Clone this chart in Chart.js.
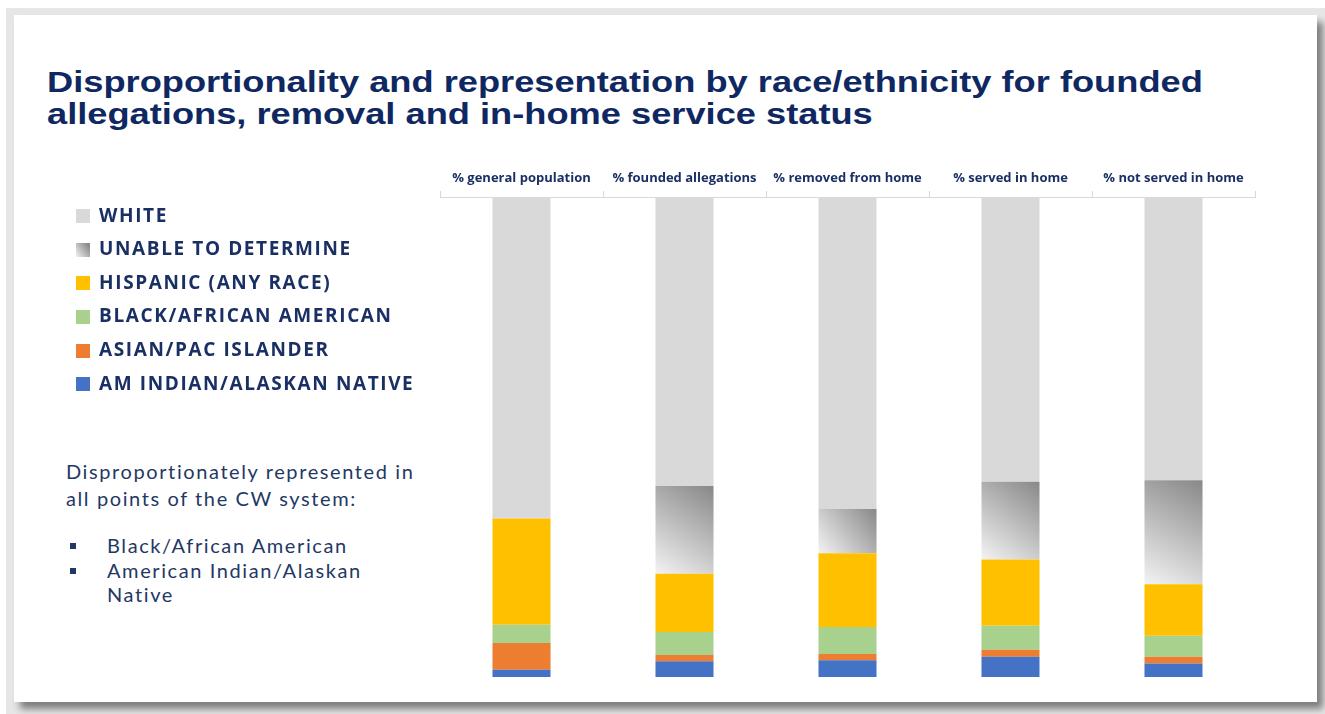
<!DOCTYPE html>
<html>
<head>
<meta charset="utf-8">
<script src="https://cdn.jsdelivr.net/npm/chart.js@4.4.0/dist/chart.umd.min.js"></script>
<style>
  html, body { margin: 0; padding: 0; background: #fff; width: 1325px; height: 714px; overflow: hidden; }
  #frame { position: absolute; left: 6px; top: 8px; width: 1319px; height: 706px; background: #e6e6e6; }
  #panel { position: absolute; left: 14px; top: 15px; width: 1303px; height: 687px; background: #fff;
           box-shadow: 6px 7px 7px rgba(0,0,0,0.45); }
  #title { position: absolute; left: 47px; top: 66px; font-family: "Liberation Sans", Arial, sans-serif;
           font-weight: bold; font-size: 30px; line-height: 32px; color: #0f2862; white-space: nowrap;
           transform: scaleX(1.208); transform-origin: 0 0; }
  #note { position: absolute; left: 66px; top: 458px; font-family: Lato, sans-serif; font-size: 20px;
          line-height: 27px; color: #1f3864; letter-spacing: 1.6px; }
  #note ul { list-style: none; margin: 21px 0 0 0; padding: 0; line-height: 24.5px; }
  #note li { position: relative; padding-left: 41px; width: 275px; }
  #note li::before { content: ""; position: absolute; left: 4px; top: 10px; width: 6px; height: 6px; background: #1f3864; }
  #wrap { position: absolute; left: 61px; top: 157px; width: 1204px; height: 520px; }
</style>
</head>
<body>
<div id="frame"></div>
<div id="panel"></div>
<div id="title">Disproportionality and representation by race/ethnicity for founded<br>allegations, removal and in-home service status</div>
<div id="note">Disproportionately represented in<br>all points of the CW system:
  <ul><li>Black/African American</li><li>American Indian/Alaskan Native</li></ul>
</div>
<div id="wrap"><canvas id="raceChart"></canvas></div>
<script>
  const categories = ["% general population", "% founded allegations", "% removed from home", "% served in home", "% not served in home"];
  const amIndian = [1.5, 3.3, 3.5, 4.2, 2.8];
  const asian = [5.6, 1.3, 1.3, 1.5, 1.4];
  const black = [3.8, 4.8, 5.6, 5.0, 4.4];
  const hispanic = [22.1, 12.1, 15.4, 13.8, 10.7];
  const unable = [0, 18.3, 9.2, 16.2, 21.7];
  const white = [67.0, 60.2, 65.0, 59.3, 59.0];

  const barPct = 0.356;
  const navy = "#1a2f63";

  // diagonal grey fill for "unable to determine", one gradient per bar
  function unableFill(c) {
    const chart = c.chart;
    const xs = chart.scales.x, ys = chart.scales.y;
    if (!chart.chartArea || !xs || !ys || c.type !== "data") return "#bfbfbf";
    const i = c.dataIndex;
    let base = 0;
    for (let d = 0; d < c.datasetIndex; d++) base += chart.data.datasets[d].data[i];
    const top = base + chart.data.datasets[c.datasetIndex].data[i];
    const cx = xs.getPixelForValue(i);
    const half = xs.width / categories.length * barPct / 2;
    const g = chart.ctx.createLinearGradient(cx - half, ys.getPixelForValue(base), cx + half, ys.getPixelForValue(top));
    g.addColorStop(0, "#f3f3f3");
    g.addColorStop(1, "#888888");
    return g;
  }

  function swatch(color) {
    const cv = document.createElement("canvas");
    cv.width = 14; cv.height = 14;
    const x = cv.getContext("2d");
    if (color === "grad") {
      const g = x.createLinearGradient(0, 14, 14, 4);
      g.addColorStop(0, "#f3f3f3");
      g.addColorStop(1, "#8a8a8a");
      x.fillStyle = g;
    } else {
      x.fillStyle = color;
    }
    x.fillRect(0, 0, 14, 14);
    return cv;
  }

  const series = [
    { label: "AM INDIAN/ALASKAN NATIVE", data: amIndian, backgroundColor: "#4472c4", sw: "#4472c4" },
    { label: "ASIAN/PAC ISLANDER", data: asian, backgroundColor: "#ed7d31", sw: "#ed7d31" },
    { label: "BLACK/AFRICAN AMERICAN", data: black, backgroundColor: "#a9d18e", sw: "#a9d18e" },
    { label: "HISPANIC (ANY RACE)", data: hispanic, backgroundColor: "#ffc000", sw: "#ffc000" },
    { label: "UNABLE TO DETERMINE", data: unable, backgroundColor: unableFill, sw: "grad" },
    { label: "WHITE", data: white, backgroundColor: "#d9d9d9", sw: "#d9d9d9" }
  ];

  // fixed legend width so the plot starts where it should; wider letter spacing for legend text
  const legendTweaks = {
    id: "legendTweaks",
    beforeLayout(chart) {
      const lg = chart.legend;
      if (lg && !lg._wrapped) {
        const fit = lg.fit;
        lg.fit = function () { fit.call(this); this.width = 379; };
        const draw = lg.draw;
        lg.draw = function () {
          const c = this.ctx;
          const prev = c.letterSpacing;
          c.letterSpacing = "1.6px";
          draw.apply(this, arguments);
          c.letterSpacing = prev || "0px";
        };
        lg._wrapped = true;
      }
    }
  };

  const ctx = document.getElementById("raceChart").getContext("2d");
  new Chart(ctx, {
    type: "bar",
    data: {
      labels: categories,
      datasets: series.map(s => ({
        label: s.label,
        data: s.data,
        backgroundColor: s.backgroundColor,
        borderWidth: 0,
        categoryPercentage: 1,
        barPercentage: barPct
      }))
    },
    options: {
      responsive: true,
      maintainAspectRatio: false,
      animation: false,
      layout: { padding: { top: 0, right: 10, bottom: 0, left: 0 } },
      scales: {
        x: {
          position: "top",
          stacked: true,
          grid: { display: true, drawOnChartArea: false, offset: true, tickLength: 6, color: "#d9d9d9" },
          border: { display: true, color: "#d9d9d9" },
          ticks: { color: navy, padding: 5, font: { family: "Open Sans", weight: "bold", size: 13 } },
          afterFit: scale => { scale.height = 40; }
        },
        y: { stacked: true, display: false, min: 0, max: 100 }
      },
      plugins: {
        legend: {
          position: "left",
          align: "start",
          title: { display: true, text: " ", padding: 11.5, font: { size: 10 } },
          labels: {
            usePointStyle: true,
            boxWidth: 14,
            boxHeight: 14,
            padding: 14.6,
            color: navy,
            font: { family: "Open Sans", weight: "bold", size: 19 },
            generateLabels: chart => series.map((s, i) => ({
              text: s.label,
              pointStyle: swatch(s.sw),
              fontColor: navy,
              datasetIndex: i,
              hidden: false,
              lineWidth: 0
            })).reverse()
          }
        },
        tooltip: { enabled: false }
      }
    },
    plugins: [legendTweaks]
  });
</script>
</body>
</html>
